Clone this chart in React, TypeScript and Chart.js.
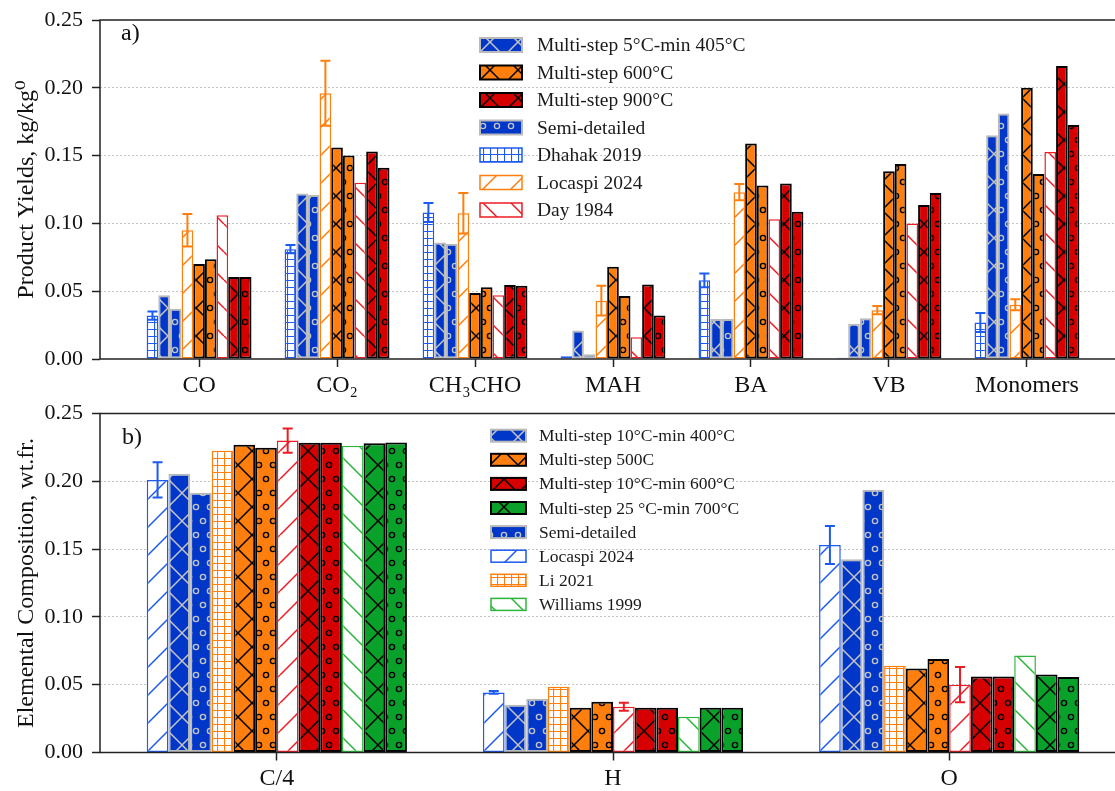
import React, { useEffect, useRef } from "react";
import { Chart, registerables } from "chart.js";
Chart.register(...registerables);

const FONT = "'Liberation Serif', 'Times New Roman', 'DejaVu Serif', serif";

// ---------- Panel a data ----------
const catsA = ["CO", "CO\u2082", "CH\u2083CHO", "MAH", "BA", "VB", "Monomers"];
const dhahak2019 = [0.032, 0.081, 0.108, 0.002, 0.058, 0.001, 0.027];
const dhahak2019Err = [0.003, 0.003, 0.007, 0, 0.005, 0, 0.007];
const ms405 = [0.047, 0.122, 0.086, 0.021, 0.0295, 0.026, 0.165];
const semiBlueA = [0.037, 0.121, 0.085, 0.0035, 0.0295, 0.03, 0.181];
const locaspiA = [0.095, 0.196, 0.1075, 0.043, 0.123, 0.036, 0.04];
const locaspiAErr = [0.012, 0.024, 0.015, 0.011, 0.006, 0.003, 0.004];
const ms600A = [0.07, 0.156, 0.0487, 0.068, 0.159, 0.1385, 0.2];
const semiOrangeA = [0.0735, 0.15, 0.053, 0.0465, 0.128, 0.1438, 0.1364];
const day1984 = [0.106, 0.13, 0.047, 0.016, 0.103, 0.1, 0.1526];
const ms900 = [0.0605, 0.153, 0.0546, 0.055, 0.1295, 0.1135, 0.216];
const semiRedA = [0.0605, 0.141, 0.054, 0.032, 0.1085, 0.1225, 0.1725];

// ---------- Panel b data ----------
const catsB = ["C/4", "H", "O"];
const locaspiB = [0.201, 0.0443, 0.153];
const locaspiBErr = [0.013, 0.001, 0.014];
const ms400 = [0.2055, 0.0352, 0.1426];
const semiBlueB = [0.1915, 0.0396, 0.1937];
const li2021 = [0.2226, 0.0485, 0.064];
const ms500 = [0.227, 0.033, 0.062];
const semiOrangeB = [0.2248, 0.0374, 0.069];
const redExpB = [0.23, 0.0337, 0.05];
const redExpBErr = [0.009, 0.003, 0.013];
const ms600B = [0.2285, 0.033, 0.056];
const semiRedB = [0.2285, 0.033, 0.056];
const williams1999 = [0.2263, 0.0263, 0.0715];
const ms700 = [0.228, 0.033, 0.0576];
const semiGreenB = [0.2287, 0.033, 0.0556];

const yTicks = [0, 0.05, 0.1, 0.15, 0.2, 0.25];

// ---------- styles ----------
const BLUE_FILL = "#0037c8";
const BLUE_EDGE = "#b9b9b9";
const BLUE_HATCH = "#c4c4c4";
const BLUE_EXP = "#1d5af0";
const ORANGE = "#ff7f0e";
const RED = "#d60000";
const RED_EXP = "#ec1c24";
const GREEN = "#0aa12a";
const GREEN_EXP = "#2bb53a";

type Style = { hatch: string; bg: string; fg: string; edge: string; bw: number };
const S = {
  blueX: { hatch: "x", bg: BLUE_FILL, fg: BLUE_HATCH, edge: BLUE_EDGE, bw: 2 },
  blueO: { hatch: "o", bg: BLUE_FILL, fg: BLUE_HATCH, edge: BLUE_EDGE, bw: 2 },
  orangeX: { hatch: "x", bg: ORANGE, fg: "#000", edge: "#000", bw: 2 },
  orangeO: { hatch: "o", bg: ORANGE, fg: "#000", edge: "#000", bw: 2 },
  redX: { hatch: "x", bg: RED, fg: "#000", edge: "#000", bw: 2 },
  redO: { hatch: "o", bg: RED, fg: "#000", edge: "#000", bw: 2 },
  greenX: { hatch: "x", bg: GREEN, fg: "#000", edge: "#000", bw: 2 },
  greenO: { hatch: "o", bg: GREEN, fg: "#000", edge: "#000", bw: 2 },
  blueGrid: { hatch: "+", bg: "#fff", fg: BLUE_EXP, edge: BLUE_EXP, bw: 1.5 },
  blueSlash: { hatch: "/", bg: "#fff", fg: BLUE_EXP, edge: BLUE_EXP, bw: 1.5 },
  orangeSlash: { hatch: "/", bg: "#fff", fg: ORANGE, edge: ORANGE, bw: 1.5 },
  orangeGrid: { hatch: "+", bg: "#fff", fg: ORANGE, edge: ORANGE, bw: 1.5 },
  redBack: { hatch: "\\", bg: "#fff", fg: RED_EXP, edge: RED_EXP, bw: 1.5 },
  redSlash: { hatch: "/", bg: "#fff", fg: RED_EXP, edge: RED_EXP, bw: 1.5 },
  greenBack: { hatch: "\\", bg: "#fff", fg: GREEN_EXP, edge: GREEN_EXP, bw: 1.5 },
};

function makePattern(ctx: CanvasRenderingContext2D, st: Style): CanvasPattern {
  const c = document.createElement("canvas");
  let w = 28, h = 28;
  if (st.hatch === "o") { w = 14; h = 28; }
  if (st.hatch === "+") { w = 7; h = 7; }
  c.width = w; c.height = h;
  const g = c.getContext("2d")!;
  g.fillStyle = st.bg;
  g.fillRect(0, 0, w, h);
  g.strokeStyle = st.fg;
  g.lineWidth = 1.5;
  if (st.hatch === "x" || st.hatch === "/") {
    g.beginPath();
    for (const k of [-1, 0, 1]) { g.moveTo(k * w, h); g.lineTo(k * w + w, 0); }
    g.stroke();
  }
  if (st.hatch === "x" || st.hatch === "\\") {
    g.beginPath();
    for (const k of [-1, 0, 1]) { g.moveTo(k * w, 0); g.lineTo(k * w + w, h); }
    g.stroke();
  }
  if (st.hatch === "+") {
    g.lineWidth = 1.2;
    g.beginPath();
    g.moveTo(0.5, 0); g.lineTo(0.5, h);
    g.moveTo(0, 0.5); g.lineTo(w, 0.5);
    g.stroke();
  }
  if (st.hatch === "o") {
    g.lineWidth = 1.4;
    const pts = [[0, 0], [w, 0], [0, h], [w, h], [w / 2, h / 2]];
    for (const [x, y] of pts) { g.beginPath(); g.arc(x, y, 2.6, 0, Math.PI * 2); g.stroke(); }
  }
  return ctx.createPattern(c, "repeat")!;
}

type SeriesDef = { label: string; values: number[]; err?: number[]; st: Style };
type LegendDef = { label: string; st: Style };

type PanelCfg = {
  cats: string[];
  series: SeriesDef[];
  legend: LegendDef[];
  xmin: number; xmax: number; cp: number;
  padTop: number; xAxisH: number; canvasW: number; right: number;
  yTitle: string; panelLabel: string; labelX: number; labelY: number;
  legX: number; legY: number; legStep: number; boxW: number; boxH: number; textX: number; legFont: number;
};

function buildChart(canvas: HTMLCanvasElement, p: PanelCfg) {
  const ctx = canvas.getContext("2d")!;
  const datasets = p.series.map((s) => ({
    label: s.label,
    data: s.values.map((v, i) => ({ x: i, y: v })),
    backgroundColor: makePattern(ctx, s.st),
    borderColor: s.st.edge,
    borderWidth: s.st.bw,
    borderSkipped: false,
    categoryPercentage: p.cp,
    barPercentage: 1,
    errs: s.err,
  }));
  const legendPatterns = p.legend.map((l) => makePattern(ctx, l.st));

  const overlay = {
    id: "overlay" + p.panelLabel,
    afterDatasetsDraw(chart: any) {
      const c = chart.ctx;
      const ys = chart.scales.y;
      const area = chart.chartArea;
      c.save();
      // error bars
      chart.data.datasets.forEach((ds: any, di: number) => {
        if (!ds.errs) return;
        const meta = chart.getDatasetMeta(di);
        ds.errs.forEach((e: number, i: number) => {
          if (!e) return;
          const v = ds.data[i].y;
          const x = meta.data[i].x;
          const y1 = ys.getPixelForValue(v + e);
          const y2 = ys.getPixelForValue(v - e);
          c.strokeStyle = ds.borderColor;
          c.lineWidth = 2;
          c.beginPath();
          c.moveTo(x, y1); c.lineTo(x, y2);
          c.moveTo(x - 5, y1); c.lineTo(x + 5, y1);
          c.moveTo(x - 5, y2); c.lineTo(x + 5, y2);
          c.stroke();
        });
      });
      // frame
      c.strokeStyle = "#222";
      c.lineWidth = 1.5;
      c.strokeRect(area.left, area.top, area.right - area.left, area.bottom - area.top);
      // panel label
      c.fillStyle = "#111";
      c.font = `24px ${FONT}`;
      c.textBaseline = "middle";
      c.textAlign = "left";
      c.fillText(p.panelLabel, p.labelX, p.labelY);
      // legend
      c.font = `${p.legFont}px ${FONT}`;
      p.legend.forEach((l, i) => {
        const cy = p.legY + i * p.legStep;
        const top = cy - p.boxH / 2;
        c.fillStyle = legendPatterns[i];
        c.fillRect(p.legX, top, p.boxW, p.boxH);
        c.strokeStyle = l.st.edge;
        c.lineWidth = l.st.bw;
        c.strokeRect(p.legX, top, p.boxW, p.boxH);
        c.fillStyle = "#1a1a1a";
        c.fillText(l.label, p.textX, cy + 1);
      });
      c.restore();
    },
  };

  return new Chart(canvas, {
    type: "bar",
    data: { datasets } as any,
    plugins: [overlay],
    options: {
      responsive: false,
      animation: false,
      events: [],
      layout: { padding: { top: p.padTop, left: 0, bottom: 0, right: p.canvasW - p.right } },
      plugins: { legend: { display: false }, tooltip: { enabled: false } },
      scales: {
        x: {
          type: "linear",
          min: p.xmin,
          max: p.xmax,
          offset: false,
          border: { display: false },
          grid: { display: true, offset: false, drawOnChartArea: false, drawTicks: true, tickLength: 8, tickColor: "#222", tickWidth: 1.5 },
          ticks: {
            autoSkip: false,
            maxRotation: 0,
            padding: 4,
            color: "#111",
            font: { family: FONT, size: 24 },
            callback: (v: any) => p.cats[Math.round(Number(v))] ?? "",
          },
          afterBuildTicks: (s: any) => { s.ticks = p.cats.map((_, i) => ({ value: i })); },
          afterFit: (s: any) => { s.height = p.xAxisH; s.paddingLeft = 0; s.paddingRight = 0; },
        },
        y: {
          type: "linear",
          min: 0,
          max: 0.25,
          border: { display: false, dash: [2, 2] },
          grid: {
            color: (c: any) => (c.index === 0 || c.index === yTicks.length - 1 ? "rgba(0,0,0,0)" : "#c4c4c4"),
            lineWidth: 1,
            drawTicks: true,
            tickLength: 8,
            tickColor: "#222",
            tickWidth: 1.5,
            tickBorderDash: [],
          },
          ticks: {
            padding: 9,
            color: "#111",
            font: { family: FONT, size: 22 },
            callback: (v: any) => Number(v).toFixed(2),
          },
          afterBuildTicks: (s: any) => { s.ticks = yTicks.map((v) => ({ value: v })); },
          title: { display: true, text: p.yTitle, color: "#111", font: { family: FONT, size: 24 }, padding: { top: 12, bottom: 0 } },
          afterFit: (s: any) => { s.width = 100; s.paddingTop = 0; s.paddingBottom = 0; },
        },
      },
    } as any,
  });
}

export default function App() {
  const refA = useRef<HTMLCanvasElement>(null);
  const refB = useRef<HTMLCanvasElement>(null);
  useEffect(() => {
    const a = buildChart(refA.current!, {
      cats: catsA,
      series: [
        { label: "Dhahak 2019", values: dhahak2019, err: dhahak2019Err, st: S.blueGrid },
        { label: "Multi-step 5°C-min 405°C", values: ms405, st: S.blueX },
        { label: "Semi-detailed", values: semiBlueA, st: S.blueO },
        { label: "Locaspi 2024", values: locaspiA, err: locaspiAErr, st: S.orangeSlash },
        { label: "Multi-step 600°C", values: ms600A, st: S.orangeX },
        { label: "Semi-detailed 600", values: semiOrangeA, st: S.orangeO },
        { label: "Day 1984", values: day1984, st: S.redBack },
        { label: "Multi-step 900°C", values: ms900, st: S.redX },
        { label: "Semi-detailed 900", values: semiRedA, st: S.redO },
      ],
      legend: [
        { label: "Multi-step 5°C-min 405°C", st: S.blueX },
        { label: "Multi-step 600°C", st: S.orangeX },
        { label: "Multi-step 900°C", st: S.redX },
        { label: "Semi-detailed", st: S.blueO },
        { label: "Dhahak 2019", st: S.blueGrid },
        { label: "Locaspi 2024", st: S.orangeSlash },
        { label: "Day 1984", st: S.redBack },
      ],
      xmin: -0.718, xmax: 6.718, cp: 0.76,
      padTop: 20, xAxisH: 51, canvasW: 1130, right: 1126,
      yTitle: "Product Yields, kg/kg\u2070", panelLabel: "a)", labelX: 121, labelY: 34,
      legX: 480, legY: 45, legStep: 27.5, boxW: 42, boxH: 14, textX: 537, legFont: 19.5,
    });
    const b = buildChart(refB.current!, {
      cats: catsB,
      series: [
        { label: "Locaspi 2024", values: locaspiB, err: locaspiBErr, st: S.blueSlash },
        { label: "Multi-step 10°C-min 400°C", values: ms400, st: S.blueX },
        { label: "Semi-detailed", values: semiBlueB, st: S.blueO },
        { label: "Li 2021", values: li2021, st: S.orangeGrid },
        { label: "Multi-step 500C", values: ms500, st: S.orangeX },
        { label: "Semi-detailed 500", values: semiOrangeB, st: S.orangeO },
        { label: "Experimental 600", values: redExpB, err: redExpBErr, st: S.redSlash },
        { label: "Multi-step 10°C-min 600°C", values: ms600B, st: S.redX },
        { label: "Semi-detailed 600", values: semiRedB, st: S.redO },
        { label: "Williams 1999", values: williams1999, st: S.greenBack },
        { label: "Multi-step 25 °C-min 700°C", values: ms700, st: S.greenX },
        { label: "Semi-detailed 700", values: semiGreenB, st: S.greenO },
      ],
      legend: [
        { label: "Multi-step 10°C-min 400°C", st: S.blueX },
        { label: "Multi-step 500C", st: S.orangeX },
        { label: "Multi-step 10°C-min 600°C", st: S.redX },
        { label: "Multi-step 25 °C-min 700°C", st: S.greenX },
        { label: "Semi-detailed", st: S.blueO },
        { label: "Locaspi 2024", st: S.blueSlash },
        { label: "Li 2021", st: S.orangeGrid },
        { label: "Williams 1999", st: S.greenBack },
      ],
      xmin: -0.526, xmax: 2.526, cp: 0.774,
      padTop: 18.5, xAxisH: 38.5, canvasW: 1130, right: 1126,
      yTitle: "Elemental Composition, wt.fr.", panelLabel: "b)", labelX: 122, labelY: 43,
      legX: 491, legY: 40.7, legStep: 24.1, boxW: 35, boxH: 12, textX: 539, legFont: 17.5,
    });
    return () => { a.destroy(); b.destroy(); };
  }, []);
  return (
    <div style={{ position: "fixed", left: 0, top: 0, width: 1115, height: 791, overflow: "hidden", background: "#fff" }}>
      <canvas ref={refA} width={1130} height={410} style={{ position: "absolute", left: 0, top: 0, width: 1130, height: 410 }} />
      <canvas ref={refB} width={1130} height={396} style={{ position: "absolute", left: 0, top: 395, width: 1130, height: 396 }} />
    </div>
  );
}
